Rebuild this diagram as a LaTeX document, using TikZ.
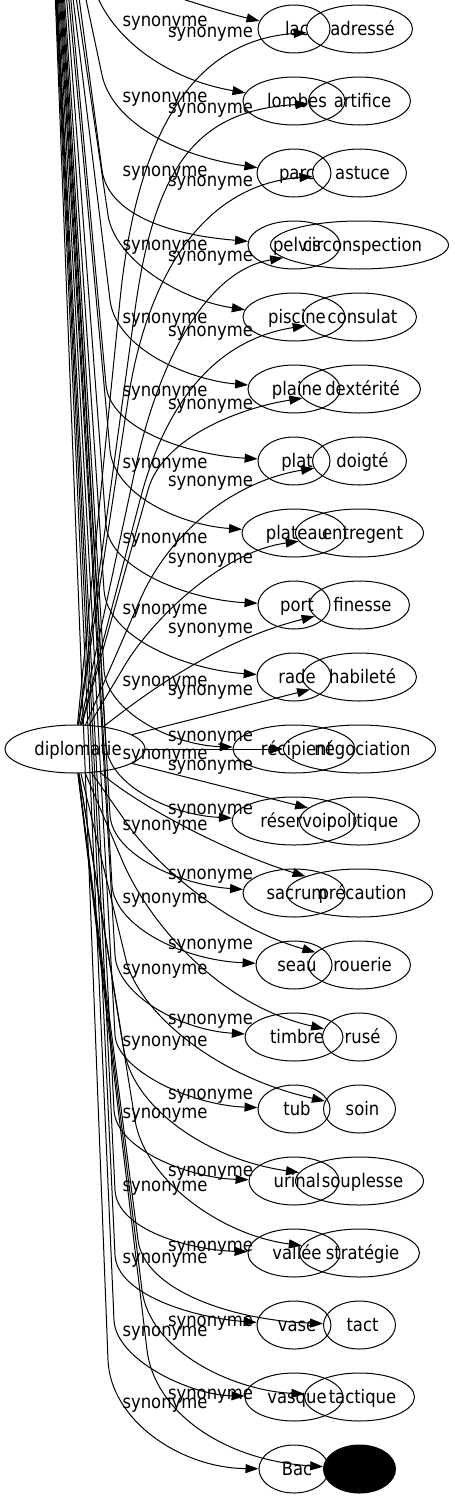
\documentclass[tikz,border=0pt]{standalone}
\usepackage{fontspec}
\setmainfont{DejaVu Sans}[FakeStretch=0.88]
\usetikzlibrary{shapes.geometric,arrows.meta,calc}
\tikzset{
  nd/.style={ellipse, draw, line width=1pt, inner sep=0pt, minimum height=48pt,
             text height=12pt, text depth=0pt, font=\fontsize{18.67}{22}\selectfont},
  lbl/.style={anchor=base, inner sep=0pt, font=\fontsize{18.67}{22}\selectfont},
  edge/.style={line width=1pt, -{Triangle[length=13pt,width=9pt]}},
}
\newcommand{\ntext}[1]{\makebox[0pt]{\hspace*{6pt}#1}}
\begin{document}
\begin{tikzpicture}[x=1pt,y=-1pt]
\useasboundingbox (0,0) rectangle (455,1499);
\clip (0,0) rectangle (455,1499);

% source node
\node[nd, minimum width=140pt] (dip) at (75,749) {\ntext{diplomatie}};

% left column
\foreach \nm/\tx/\w [count=\k] in {L1/lac/72, L2/lombes/102, L3/parc/74, L4/pelvis/92,
  L5/piscine/102, L6/plaine/92, L7/plat/72, L8/plateau/104, L9/port/72, L10/rade/74,
  L11/récipient/122, L12/réservoir/124, L13/sacrum/102, L14/seau/76, L15/timbre/98,
  L16/tub/72, L17/urinal/90, L18/vallée/92, L19/vase/74, L20/vasque/98, L21/Bac/70}
  \node[nd, minimum width=\w pt] (\nm) at (294,{29+72*(\k-1)}) {\ntext{\tx}};

% right column
\foreach \nm/\tx/\w [count=\k] in {R1/adressé/106, R2/artifice/102, R3/astuce/94,
  R4/circonspection/178, R5/consulat/114, R6/dextérité/122, R7/doigté/94,
  R8/entregent/128, R9/finesse/100, R10/habileté/114, R11/négociation/152,
  R12/politique/120, R13/précaution/146, R14/rouerie/102, R15/rusé/74, R16/soin/72,
  R17/souplesse/128, R18/stratégie/120, R19/tact/72, R20/tactique/110}
  \node[nd, minimum width=\w pt] (\nm) at (359.5,{29+72*(\k-1)}) {\ntext{\tx}};
\node[nd, fill=black, minimum width=72pt] (R21) at (359.5,1469) {};

% first family of connectors (coming from above the picture)
\coordinate (s1) at (150,-12);
\draw[edge] (s1) .. controls (190,2) and (230,14) .. (L1);
\coordinate (s2) at (93,-15);
\draw[edge] (s2) .. controls (110,40) and (170,80) .. (L2);
\foreach \k/\sx/\tx/\ty/\cx/\cy/\len in {
  3/84/102/75/170/155/45pt, 4/78/102/170/170/235/45pt, 5/75/108/215/180/300/45pt,
  6/72/110/300/190/380/50pt, 7/70/106/385/190/455/45pt, 8/68/110/450/180/525/45pt,
  9/66/106/525/190/600/45pt, 10/64/104/590/190/670/50pt, 11/63/104/670/170/745/40pt,
  12/62/106/745/170/815/40pt, 13/61/110/815/180/885/40pt, 14/60/112/885/180/960/40pt,
  15/59/115/955/180/1030/40pt, 16/58/115/1035/190/1105/35pt, 17/57/114/1110/190/1178/40pt,
  18/56.5/115/1190/190/1250/40pt, 19/56/115/1255/195/1318/40pt,
  20/55.5/114/1320/190/1395/40pt, 21/55/108/1360/180/1468/60pt} {
  \coordinate (s\k) at (\sx,-10);
  \coordinate (t\k) at (\tx,\ty);
  \draw[edge] (s\k) -- (t\k) .. controls ($(t\k)!-\len!(s\k)$) and (\cx,\cy) .. (L\k);
}

% second family of connectors (from diplomatie)
\foreach \k/\tx/\ty/\len/\cx/\cy in {
  1/120/300/180pt/200/40, 2/135/310/150pt/200/110, 3/128/400/120pt/200/185,
  4/135/470/120pt/210/270, 5/140/500/100pt/215/340, 6/148/490/55pt/240/408,
  7/140/600/80pt/240/480, 8/125/665/50pt/220/552,
  14/128/825/40pt/220/925, 15/122/860/70pt/220/1005, 16/126/960/50pt/210/1075,
  17/124/1050/60pt/210/1160, 18/135/1120/60pt/220/1235, 19/138/1240/50pt/230/1320,
  20/142/1290/60pt/230/1390, 21/147/1350/60pt/220/1460} {
  \coordinate (u\k) at (\tx,\ty);
  \draw[edge] (dip) -- (u\k) .. controls ($(u\k)!-\len!(dip)$) and (\cx,\cy) .. (R\k);
}
\draw[edge] (dip) .. controls (150,690) and (220,640) .. (R9);
\draw[edge] (dip) -- (R10);
\draw[edge] (dip) -- (R11);
\draw[edge] (dip) -- (R12);
\draw[edge] (dip) .. controls (130,800) and (220,850) .. (R13);

% labels
\foreach \y [count=\i] in {27,102.5,176.5,250,323,396.5,468,543,614.5,686,759,830,903,974,
  1046,1118,1191.5,1263,1336.5,1408}
  \node[lbl] (la\i) at (165,\y) {synonyme};
\foreach \y [count=\i] in {37.5,113,186.5,261.5,336.5,409.5,486.5,563,633,695,741,770,
  814.5,879,949.5,1024.5,1099.5,1176.5,1251.5,1326.5,1399.5}
  \node[lbl] (lb\i) at (210.5,\y) {synonyme};
\end{tikzpicture}
\end{document}
